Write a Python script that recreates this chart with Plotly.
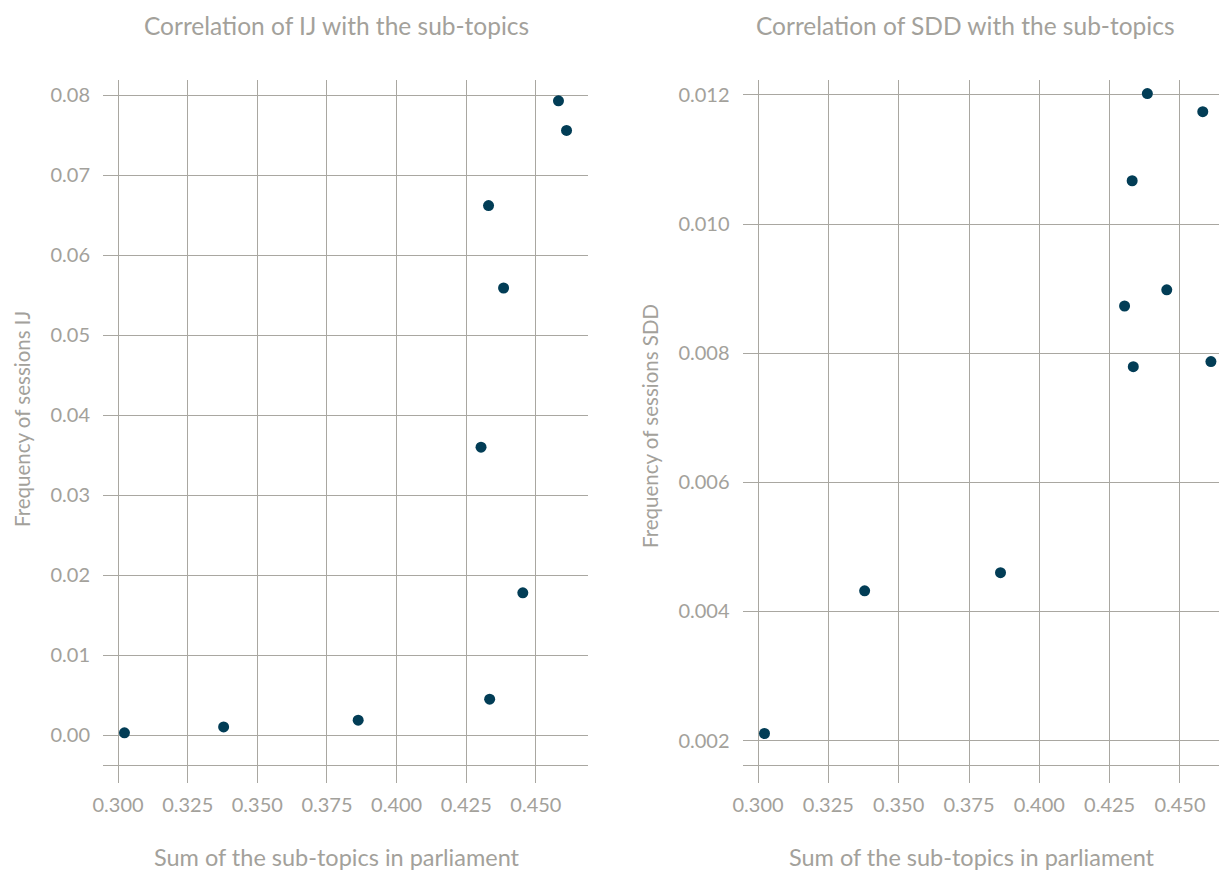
import plotly.graph_objects as go

# Data
sub_topics_sum = [0.3023, 0.3379, 0.3862, 0.4334, 0.4303, 0.4453, 0.4384, 0.4330, 0.4581, 0.4610]
freq_ij = [0.0003, 0.00104, 0.00188, 0.0045, 0.0360, 0.0178, 0.0559, 0.0662, 0.0793, 0.0756]
freq_sdd = [0.00211, 0.00432, 0.00460, 0.00779, 0.00873, 0.00898, 0.01202, 0.01067, 0.01174, 0.00787]

titles = ["Correlation of IJ with the sub-topics", "Correlation of SDD with the sub-topics"]
x_title = "Sum of the sub-topics in parliament"
y_titles = ["Frequency of sessions IJ", "Frequency of sessions SDD"]

W, H = 1219, 870
GRID = "#a9a7a1"
TEXT = "#a3a19b"
DOT = "#023d56"
FONT = "Lato"

def px(x):
    return x / W

def py(y):
    return 1 - y / H

fig = go.Figure()
fig.add_trace(go.Scatter(x=sub_topics_sum, y=freq_ij, mode="markers",
                         marker=dict(size=11, color=DOT), xaxis="x", yaxis="y",
                         showlegend=False, hoverinfo="skip"))
fig.add_trace(go.Scatter(x=sub_topics_sum, y=freq_sdd, mode="markers",
                         marker=dict(size=11, color=DOT), xaxis="x2", yaxis="y2",
                         showlegend=False, hoverinfo="skip"))

top, bottom = 80, 764.5
common_x = dict(showgrid=True, gridcolor=GRID, gridwidth=1.2, showline=True,
                linecolor=GRID, linewidth=1.2, ticks="outside", ticklen=17,
                tickcolor=GRID, tickwidth=1.2, tickformat=".3f", dtick=0.025,
                tick0=0.3, zeroline=False, ticklabelstandoff=5, automargin=False,
                tickfont=dict(family=FONT, size=20, color=TEXT))
common_y = dict(showgrid=True, gridcolor=GRID, gridwidth=1.2, showline=False,
                ticks="", zeroline=False, ticklabelstandoff=12, automargin=False,
                tickfont=dict(family=FONT, size=20, color=TEXT))

fig.update_layout(
    width=W, height=H,
    margin=dict(l=0, r=0, t=0, b=0, autoexpand=False),
    paper_bgcolor="white", plot_bgcolor="white",
    xaxis=dict(domain=[px(103), px(588)], range=[0.2946, 0.4687], anchor="y", **common_x),
    yaxis=dict(domain=[py(bottom), py(top)], range=[-0.00366, 0.0819], anchor="x",
               tickformat=".2f", dtick=0.01, tick0=0, **common_y),
    xaxis2=dict(domain=[px(742.5), 1.0], range=[0.29448, 0.46387], anchor="y2", **common_x),
    yaxis2=dict(domain=[py(bottom), py(top)], range=[0.00163, 0.01223], anchor="x2",
                tickformat=".3f", dtick=0.002, tick0=0, **common_y),
)

annos = [
    dict(text=titles[0], x=px(336.5), y=py(25), size=24.5),
    dict(text=titles[1], x=px(965.5), y=py(25), size=24.5),
    dict(text=x_title, x=px(336.5), y=py(857), size=23.5),
    dict(text=x_title, x=px(972), y=py(857), size=23.5),
]
for a in annos:
    fig.add_annotation(text=a["text"], x=a["x"], y=a["y"], xref="paper", yref="paper",
                       xanchor="center", yanchor="middle", showarrow=False,
                       font=dict(family=FONT, size=a["size"], color=TEXT))
fig.add_annotation(text=y_titles[0], x=px(22), y=py(419), xref="paper", yref="paper",
                   xanchor="center", yanchor="middle", showarrow=False, textangle=-90,
                   font=dict(family=FONT, size=20.5, color=TEXT))
fig.add_annotation(text=y_titles[1], x=px(650), y=py(426), xref="paper", yref="paper",
                   xanchor="center", yanchor="middle", showarrow=False, textangle=-90,
                   font=dict(family=FONT, size=20.5, color=TEXT))

fig.write_html("out.html", config={"displayModeBar": False},
               post_script="document.body.style.margin='0';document.body.style.overflow='hidden';")
